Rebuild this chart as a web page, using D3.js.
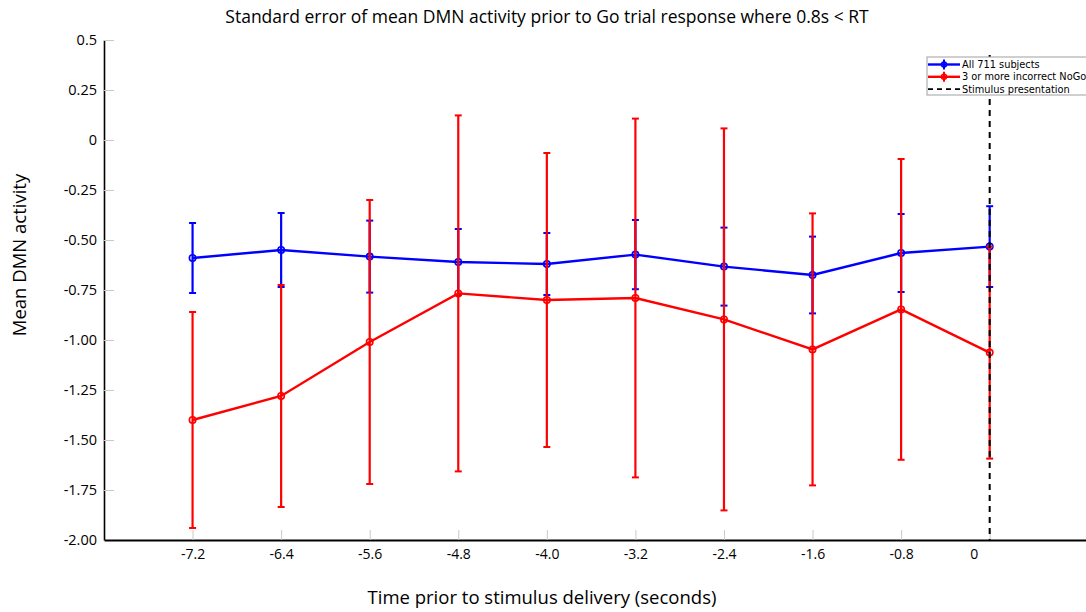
<!DOCTYPE html>
<html>
<head>
<meta charset="utf-8">
<script src="https://cdn.jsdelivr.net/npm/d3@7"></script>
<style>
  html, body { margin: 0; padding: 0; background: #fff; }
  svg { display: block; }
</style>
</head>
<body>
<svg id="chart"></svg>
<script>
// Time points (seconds before stimulus) and their tick labels
const timePoints = [-7.2, -6.4, -5.6, -4.8, -4.0, -3.2, -2.4, -1.6, -0.8, 0];
const timeLabels = ["-7.2", "-6.4", "-5.6", "-4.8", "-4.0", "-3.2", "-2.4", "-1.6", "-0.8", "0"];

// Y ticks
const yTicks = [0.5, 0.25, 0, -0.25, -0.5, -0.75, -1.0, -1.25, -1.5, -1.75, -2.0];
const yTickLabels = ["0.5", "0.25", "0", "-0.25", "-0.50", "-0.75", "-1.00", "-1.25", "-1.50", "-1.75", "-2.00"];

// All 711 subjects: mean and standard error
const allMean = [-0.59, -0.55, -0.583, -0.61, -0.62, -0.573, -0.633, -0.675, -0.565, -0.533];
const allSE = [0.175, 0.185, 0.18, 0.165, 0.155, 0.173, 0.195, 0.192, 0.195, 0.202];

// 3 or more incorrect NoGo: mean and standard error
const noGoMean = [-1.40, -1.28, -1.01, -0.767, -0.80, -0.79, -0.897, -1.047, -0.847, -1.063];
const noGoSE = [0.54, 0.555, 0.71, 0.89, 0.735, 0.897, 0.955, 0.68, 0.752, 0.53];

const seriesNames = ["All 711 subjects", "3 or more incorrect NoGo"];
const stimulusTime = 0;
const stimulusName = "Stimulus presentation";

const W = 1086, H = 612;
const svg = d3.select("#chart").attr("width", W).attr("height", H);
const font = "'Open Sans', sans-serif";

const x = d3.scaleLinear().domain([-8, 0.87]).range([104, 1086]);
const y = d3.scaleLinear().domain([-2, 0.5]).range([540, 40]);

// Title
svg.append("text")
    .attr("x", 547).attr("y", 23)
    .attr("text-anchor", "middle")
    .attr("font-family", font)
    .attr("font-size", 17.5)
    .attr("fill", "#000")
    .text("Standard error of mean DMN activity prior to Go trial response where 0.8s < RT");

// Y axis
const yAxis = svg.append("g")
    .attr("transform", `translate(${x.range()[0]},0)`)
    .call(d3.axisLeft(y)
        .tickValues(yTicks)
        .tickFormat((d, i) => yTickLabels[i])
        .tickSizeInner(-10)
        .tickSizeOuter(0)
        .tickPadding(7));
yAxis.select(".domain").attr("stroke", "#000").attr("stroke-width", 1.6);
yAxis.selectAll(".tick line").attr("stroke", "#c8c8c8");
yAxis.selectAll(".tick text")
    .attr("font-family", font).attr("font-size", 14.5).attr("fill", "#000");

// X axis
const xAxis = svg.append("g")
    .attr("transform", `translate(0,${y.range()[0]})`)
    .call(d3.axisBottom(x)
        .tickValues(timePoints)
        .tickFormat((d, i) => timeLabels[i])
        .tickSizeInner(-10)
        .tickSizeOuter(0)
        .tickPadding(9));
xAxis.select(".domain").attr("stroke", "#000").attr("stroke-width", 2.2);
xAxis.selectAll(".tick line").attr("stroke", "#c8c8c8");
xAxis.selectAll(".tick text")
    .attr("font-family", font).attr("font-size", 14).attr("fill", "#000")
    .attr("dx", d => d === 0 ? -16 : 0);

// Axis labels
svg.append("text")
    .attr("transform", "rotate(-90)")
    .attr("x", -255).attr("y", 26)
    .attr("text-anchor", "middle")
    .attr("font-family", font).attr("font-size", 18.5)
    .text("Mean DMN activity");

svg.append("text")
    .attr("x", 542).attr("y", 604)
    .attr("text-anchor", "middle")
    .attr("font-family", font).attr("font-size", 18.5)
    .text("Time prior to stimulus delivery (seconds)");

// Series with error bars
function drawSeries(means, ses, color) {
    const pts = timePoints.map((t, i) => ({ t: t, m: means[i], se: ses[i] }));
    const g = svg.append("g");
    g.selectAll("line.err").data(pts).join("line")
        .attr("x1", d => x(d.t)).attr("x2", d => x(d.t))
        .attr("y1", d => y(d.m + d.se)).attr("y2", d => y(d.m - d.se))
        .attr("stroke", color).attr("stroke-width", 2.2);
    [1, -1].forEach(s => {
        g.selectAll(null).data(pts).join("line")
            .attr("x1", d => x(d.t) - 3.5).attr("x2", d => x(d.t) + 3.5)
            .attr("y1", d => y(d.m + s * d.se)).attr("y2", d => y(d.m + s * d.se))
            .attr("stroke", color).attr("stroke-width", 2);
    });
    g.append("path")
        .attr("d", d3.line().x(d => x(d.t)).y(d => y(d.m))(pts))
        .attr("fill", "none").attr("stroke", color).attr("stroke-width", 2.4);
    g.selectAll("circle").data(pts).join("circle")
        .attr("cx", d => x(d.t)).attr("cy", d => y(d.m)).attr("r", 3.2)
        .attr("fill", "none").attr("stroke", color).attr("stroke-width", 1.6);
}
drawSeries(allMean, allSE, "#0000ff");
drawSeries(noGoMean, noGoSE, "#ff0000");

// Stimulus line
svg.append("line")
    .attr("x1", x(stimulusTime)).attr("x2", x(stimulusTime))
    .attr("y1", 55).attr("y2", y.range()[0])
    .attr("stroke", "#000").attr("stroke-width", 2)
    .attr("stroke-dasharray", "6,5");

// Legend
const leg = svg.append("g").attr("transform", "translate(927,57)");
leg.append("rect")
    .attr("x", 0).attr("y", 0).attr("width", 175).attr("height", 38)
    .attr("fill", "#fff").attr("stroke", "#a0a0a0").attr("stroke-width", 1);
const legItems = [
    { name: seriesNames[0], color: "#0000ff", dash: null, marker: true },
    { name: seriesNames[1], color: "#ff0000", dash: null, marker: true },
    { name: stimulusName, color: "#000", dash: "5,4", marker: false }
];
legItems.forEach((it, i) => {
    const cy = 7.5 + i * 12.3;
    leg.append("line")
        .attr("x1", 1).attr("x2", 33).attr("y1", cy).attr("y2", cy)
        .attr("stroke", it.color).attr("stroke-width", it.marker ? 2.4 : 1.8)
        .attr("stroke-dasharray", it.dash);
    if (it.marker) {
        leg.append("line")
            .attr("x1", 17).attr("x2", 17).attr("y1", cy - 5).attr("y2", cy + 5)
            .attr("stroke", it.color).attr("stroke-width", 2);
        leg.append("circle")
            .attr("cx", 17).attr("cy", cy).attr("r", 2.5)
            .attr("fill", "none").attr("stroke", it.color).attr("stroke-width", 1.5);
    }
    leg.append("text")
        .attr("x", 35).attr("y", cy + 3.5)
        .attr("font-family", "'DejaVu Sans', sans-serif").attr("font-size", 9.8)
        .attr("fill", "#000")
        .text(it.name);
});
</script>
</body>
</html>
